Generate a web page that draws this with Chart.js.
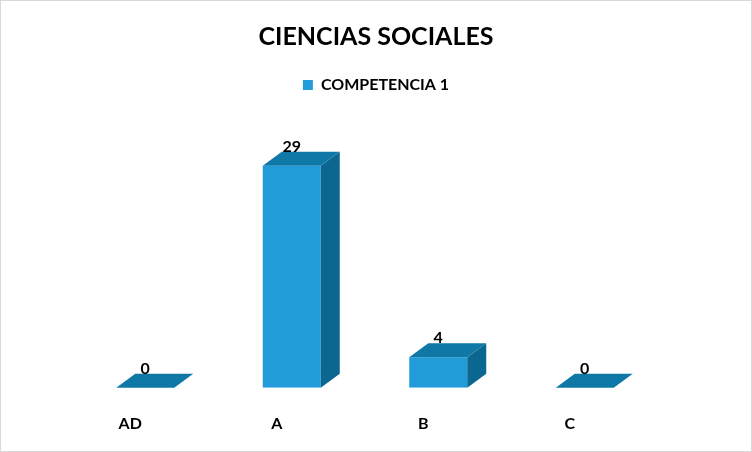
<!DOCTYPE html>
<html>
<head>
<meta charset="utf-8">
<script src="https://cdn.jsdelivr.net/npm/chart.js@4.4.1/dist/chart.umd.min.js"></script>
<style>
    body { margin: 0; background: #ffffff; }
    #wrap { width: 752px; height: 452px; position: relative; }
</style>
</head>
<body>
<div id="wrap"><canvas id="myChart" width="752" height="452"></canvas></div>
<script>
// datos del grafico
const categorias = ['AD', 'A', 'B', 'C']
const valores = [0, 29, 4, 0]
const nombreSerie = 'COMPETENCIA 1'
const titulo = 'CIENCIAS SOCIALES'

let corFrente = '#229cd9'
let corTopo = '#0f78a7'
let corLado = '#0b6690'
let fonte = 'Lato, "Open Sans", sans-serif'

// profundidad del efecto 3D
const prof = { dx: 19, dy: -14 }

const efecto3d = {
    id: 'efecto3d',
    afterLayout(chart) {
        // titulo y leyenda centrados en todo el lienzo
        let mover = 11
        chart.titleBlock.left += mover
        chart.titleBlock.right += mover
        chart.legend.left += mover
        chart.legend.right += mover
    },
    afterDatasetsDraw(chart) {
        const c = chart.ctx
        const meta = chart.getDatasetMeta(0)
        meta.data.forEach(function (bar, i) {
            let w = bar.width
            let l = bar.x - w / 2
            let r = bar.x + w / 2
            let t = bar.y
            let b = bar.base
            c.save()
            // lado
            if (b - t > 0) {
                c.fillStyle = corLado
                c.beginPath()
                c.moveTo(r, t)
                c.lineTo(r + prof.dx, t + prof.dy)
                c.lineTo(r + prof.dx, b + prof.dy)
                c.lineTo(r, b)
                c.closePath()
                c.fill()
            }
            // topo
            c.fillStyle = corTopo
            c.beginPath()
            c.moveTo(l, t)
            c.lineTo(l + prof.dx, t + prof.dy)
            c.lineTo(r + prof.dx, t + prof.dy)
            c.lineTo(r, t)
            c.closePath()
            c.fill()
            // etiqueta de valor
            c.fillStyle = '#000000'
            c.font = 'bold 16px ' + fonte
            c.textAlign = 'center'
            c.textBaseline = 'bottom'
            c.fillText(valores[i], bar.x, t - 11)
            c.restore()
        })
    },
    afterDraw(chart) {
        const c = chart.ctx
        c.save()
        c.strokeStyle = '#d9d9d9'
        c.lineWidth = 1
        c.strokeRect(0.5, 0.5, chart.width - 1, chart.height - 1)
        c.restore()
    }
}

const ctx = document.getElementById('myChart').getContext('2d')
let myChart = new Chart(ctx, {
    type: 'bar',
    data: {
        labels: categorias,
        datasets: [{
            label: nombreSerie,
            data: valores,
            backgroundColor: corFrente,
            borderWidth: 0,
            categoryPercentage: 1,
            barPercentage: 0.396
        }]
    },
    options: {
        responsive: false,
        animation: false,
        layout: {
            padding: { left: 72, right: 94, top: 17, bottom: 7 }
        },
        plugins: {
            title: {
                display: true,
                text: titulo,
                color: '#000000',
                font: { family: fonte, size: 25, weight: 'bold' },
                padding: { top: 5, bottom: 15 }
            },
            legend: {
                display: true,
                position: 'top',
                labels: {
                    color: '#000000',
                    font: { family: fonte, size: 16, weight: 'bold' },
                    boxWidth: 10,
                    boxHeight: 10,
                    padding: 10
                }
            },
            tooltip: { enabled: false }
        },
        scales: {
            x: {
                grid: { display: false },
                border: { display: false },
                ticks: {
                    color: '#000000',
                    font: { family: fonte, size: 16, weight: 'bold' },
                    labelOffset: -15,
                    padding: 18
                },
                afterFit(scale) {
                    scale.height -= 6
                }
            },
            y: {
                display: false,
                min: 0,
                max: 37.2
            }
        }
    },
    plugins: [efecto3d]
})
</script>
</body>
</html>
